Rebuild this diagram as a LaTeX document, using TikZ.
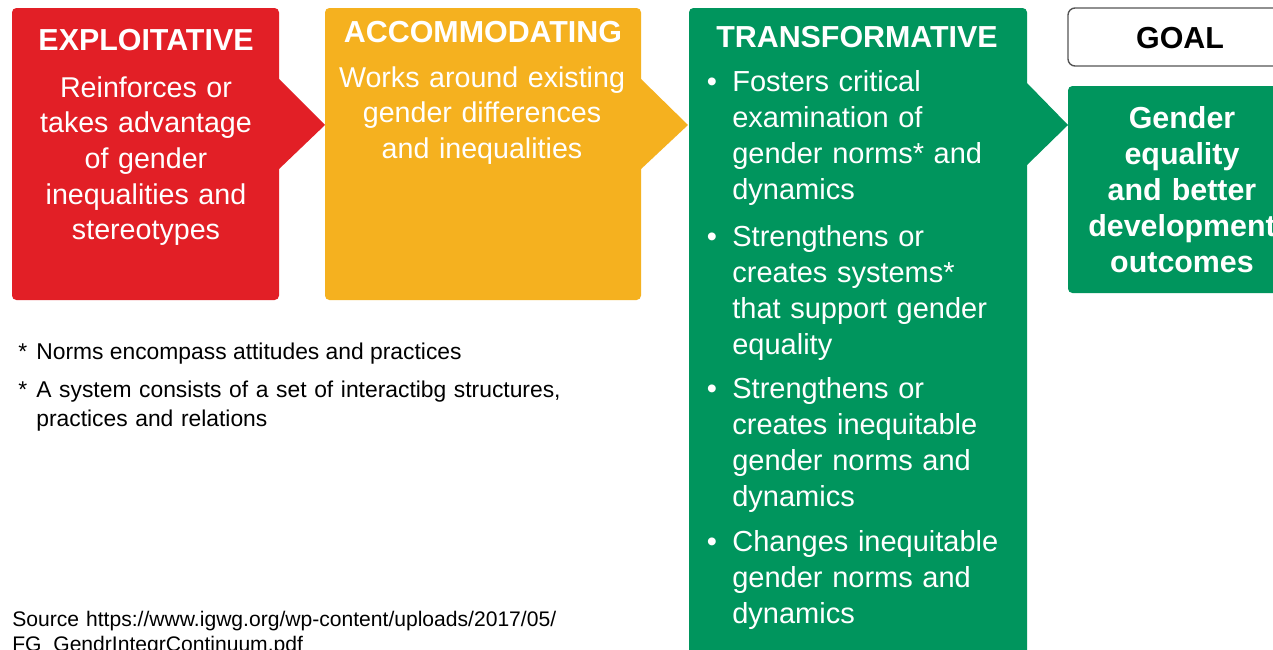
\documentclass[tikz,border=0pt]{standalone}
\usepackage{fontspec}
\setmainfont{Liberation Sans}

\definecolor{exploitred}{RGB}{226,31,38}
\definecolor{accomyellow}{RGB}{245,177,31}
\definecolor{transgreen}{RGB}{0,149,93}
\definecolor{goalgray}{RGB}{85,85,85}

\tikzset{
  stagebox/.style={rounded corners=2.5pt},
  headtext/.style={text=white, font=\bfseries\fontsize{17.3}{20}\selectfont, inner sep=0pt, anchor=base},
  bodytext/.style={text=white, font=\fontsize{16.3}{20.3}\selectfont, text width=6.2cm, align=center, inner sep=0pt, anchor=base},
  goaltext/.style={text=white, font=\bfseries\fontsize{17.3}{20.5}\selectfont, text width=4.6cm, align=center, inner sep=0pt, anchor=base},
  itemtext/.style={text=white, font=\fontsize{16.5}{20.5}\selectfont, text width=5.9cm, align=left, inner sep=0pt, anchor=base west},
  dotmark/.style={text=white, font=\fontsize{16.5}{20.5}\selectfont, inner sep=0pt, anchor=base},
  notetext/.style={font=\fontsize{13}{17}\selectfont, inner sep=0pt, anchor=base west},
}

\begin{document}
\begin{tikzpicture}[x=0.02cm, y=-0.02cm]
\useasboundingbox (0,0) rectangle (1273,649);
\fill[white] (0,0) rectangle (1273,649);

% the three stages, each pointing to the next
\fill[exploitred, stagebox] (12,8) rectangle (279,300);
\fill[exploitred] (278,78) -- (325,125) -- (278,170) -- cycle;
\fill[accomyellow, stagebox] (325,8) rectangle (641,300);
\fill[accomyellow] (640,78) -- (688,125) -- (640,170) -- cycle;
\fill[transgreen, stagebox] (689,8) rectangle (1027,680);
\fill[transgreen] (1026,82) -- (1068,125) -- (1026,166) -- cycle;

% goal
\draw[goalgray, fill=white, rounded corners=4pt, line width=0.8pt] (1068,8) rectangle (1310,66);
\fill[transgreen, stagebox] (1068,86) rectangle (1310,293);

\node[headtext] (exploit) at (146,50) {EXPLOITATIVE};
\node[bodytext] (exploitbody) at (146,97) {Reinforces or\\takes advantage\\of gender\\inequalities and\\stereotypes};

\node[headtext] (accom) at (483,42) {ACCOMMODATING};
\node[bodytext] (accombody) at (482,87) {Works around existing\\gender differences\\and inequalities};

\node[headtext] (trans) at (857,47) {TRANSFORMATIVE};
\foreach \y [count=\i] in {91,246,398,551} {
\node[dotmark] (dot\i) at (712,\y) {\textbullet};
}
\node[itemtext] (item1) at (732,91) {Fosters critical\\examination of\\gender norms* and\\dynamics};
\node[itemtext] (item2) at (732,246) {Strengthens or\\creates systems*\\that support gender\\equality};
\node[itemtext] (item3) at (732,398) {Strengthens or\\creates inequitable\\gender norms and\\dynamics};
\node[itemtext] (item4) at (732,551) {Changes inequitable\\gender norms and\\dynamics};

\node[headtext, text=black] (goal) at (1180,48) {GOAL};
\node[goaltext] (goalbody) at (1182,128) {Gender\\equality\\and better\\development\\outcomes};

% footnotes
\node[notetext] (star1) at (18,359) {*};
\node[notetext] (note1) at (36,359) {Norms encompass attitudes and practices};
\node[notetext] (star2) at (18,397) {*};
\node[notetext, text width=11cm, align=left] (note2) at (36,397) {A system consists of a set of interactibg structures,\\practices and relations};

\node[notetext, font=\fontsize{12}{14.5}\selectfont, text width=12cm, align=left] (source) at (12,626) {Source https://www.igwg.org/wp-content/uploads/2017/05/\\FG\_GendrIntegrContinuum.pdf};
\end{tikzpicture}
\end{document}
